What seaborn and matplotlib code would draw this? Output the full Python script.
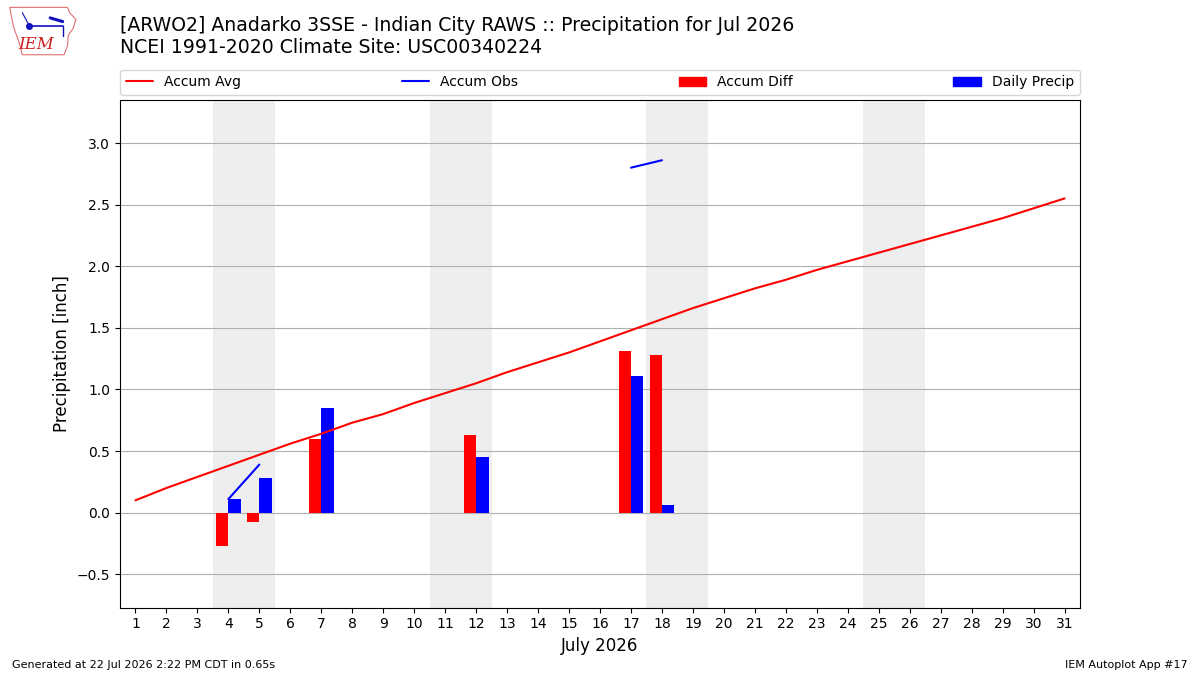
import matplotlib
matplotlib.use("Agg")
import matplotlib.pyplot as plt
from matplotlib.lines import Line2D
from matplotlib.patches import Patch, Polygon
import numpy as np
import pandas as pd
import seaborn as sns

# Climatology accumulated average, July 1..31
days = list(range(1, 32))
accum_avg = [0.10, 0.20, 0.29, 0.38, 0.47, 0.56, 0.64, 0.73, 0.80, 0.89,
             0.97, 1.05, 1.14, 1.22, 1.30, 1.39, 1.48, 1.57, 1.66, 1.74,
             1.82, 1.89, 1.97, 2.04, 2.11, 2.18, 2.25, 2.32, 2.39, 2.47, 2.55]

# Observed accumulation (NaN where no report)
nan = np.nan
accum_obs = [nan, nan, nan, 0.11, 0.39, nan, 1.24, nan, nan, nan,
             nan, 1.69, nan, nan, nan, nan, 2.80, 2.86, nan, nan, nan]

# Days with precip: daily amounts and departure of accumulation
precip_days = [4, 5, 7, 12, 17, 18]
daily_precip = [0.11, 0.28, 0.85, 0.45, 1.11, 0.06]
accum_diff = [-0.27, -0.08, 0.60, 0.63, 1.31, 1.28]

weekends = [4, 11, 18, 25]

sns.set_style("ticks")
plt.rcParams['font.family'] = ['DejaVu Sans']
plt.rcParams.update({'text.color': 'black', 'axes.labelcolor': 'black',
                     'xtick.color': 'black', 'ytick.color': 'black'})

fig = plt.figure(figsize=(12, 6.75), dpi=100)
ax = fig.add_axes([0.1, 0.1, 0.8, 0.752])

for d in weekends:
    ax.axvspan(d - 0.5, d + 1.5, color='#eeeeee', zorder=0, lw=0)

bars = pd.DataFrame({
    'day': precip_days * 2,
    'value': accum_diff + daily_precip,
    'kind': ['Accum Diff'] * len(precip_days) + ['Daily Precip'] * len(precip_days),
})
sns.barplot(data=bars, x='day', y='value', hue='kind', native_scale=True,
            palette={'Accum Diff': 'red', 'Daily Precip': 'blue'}, saturation=1,
            width=0.8, linewidth=0, errorbar=None, legend=False, ax=ax, zorder=3)

sns.lineplot(x=days, y=accum_avg, color='red', lw=1.5, ax=ax, zorder=4)

# observed line, broken into contiguous runs
obs = pd.DataFrame({'day': days[:len(accum_obs)], 'accum': accum_obs})
run = obs['accum'].isna().cumsum()
for _, seg in obs.dropna().groupby(run[obs['accum'].notna()]):
    if len(seg) > 1:
        sns.lineplot(data=seg, x='day', y='accum', color='blue', lw=1.5, ax=ax, zorder=4)

ax.set_xlim(0.5, 31.5)
ax.set_ylim(-0.77, 3.35)
ax.set_xticks(days)
ax.set_xticklabels([str(d) for d in days])
ax.set_yticks([-0.5, 0.0, 0.5, 1.0, 1.5, 2.0, 2.5, 3.0])
ax.yaxis.grid(True, color='#b0b0b0', lw=0.8, zorder=1)
ax.set_axisbelow(True)
ax.set_xlabel('July 2026', fontsize=12)
ax.set_ylabel('Precipitation [inch]', fontsize=12)
for s in ax.spines.values():
    s.set_visible(True)
    s.set_color('black')
    s.set_linewidth(0.8)

handles = [Line2D([], [], color='red', lw=1.5), Line2D([], [], color='blue', lw=1.5),
           Patch(color='red'), Patch(color='blue')]
ax.legend(handles, ['Accum Avg', 'Accum Obs', 'Accum Diff', 'Daily Precip'],
          ncol=4, mode='expand', loc='lower left', bbox_to_anchor=(0, 1.01, 1, 0.05),
          fontsize=10, borderaxespad=0)

fig.text(0.1, 0.977, '[ARWO2] Anadarko 3SSE - Indian City RAWS :: Precipitation for Jul 2026\n'
         'NCEI 1991-2020 Climate Site: USC00340224', fontsize=13.6, va='top', ha='left',
         linespacing=1.2)
fig.text(0.01, 0.008, 'Generated at 22 Jul 2026 2:22 PM CDT in 0.65s', fontsize=8, va='bottom')
fig.text(0.99, 0.008, 'IEM Autoplot App #17', fontsize=8, va='bottom', ha='right')

# small logo
lax = fig.add_axes([0.007, 0.915, 0.058, 0.078])
lax.set_xlim(0, 1)
lax.set_ylim(0, 1)
lax.axis('off')
outline = [(0.02, 0.95), (0.85, 0.95), (0.88, 0.85), (0.97, 0.72), (0.93, 0.55),
           (0.86, 0.42), (0.85, 0.22), (0.80, 0.05), (0.2, 0.05), (0.15, 0.3),
           (0.08, 0.55), (0.04, 0.8)]
lax.add_patch(Polygon(outline, closed=True, fill=False, ec='#e07070', lw=0.8))
lax.plot([0.3, 0.78], [0.6, 0.6], color='#1010c0', lw=1.2)
lax.plot([0.3], [0.6], 'o', color='#1010c0', ms=4)
lax.plot([0.2, 0.3], [0.85, 0.6], color='#1010c0', lw=0.8)
lax.plot([0.6, 0.78], [0.75, 0.68], color='#1010c0', lw=2.2)
lax.plot([0.78, 0.78], [0.6, 0.4], color='#1010c0', lw=1.0)
lax.text(0.4, 0.08, 'IEM', color='#cc2222', fontsize=12, family='DejaVu Serif',
         style='italic', ha='center', va='bottom')

fig.savefig('out.png', dpi=100)
